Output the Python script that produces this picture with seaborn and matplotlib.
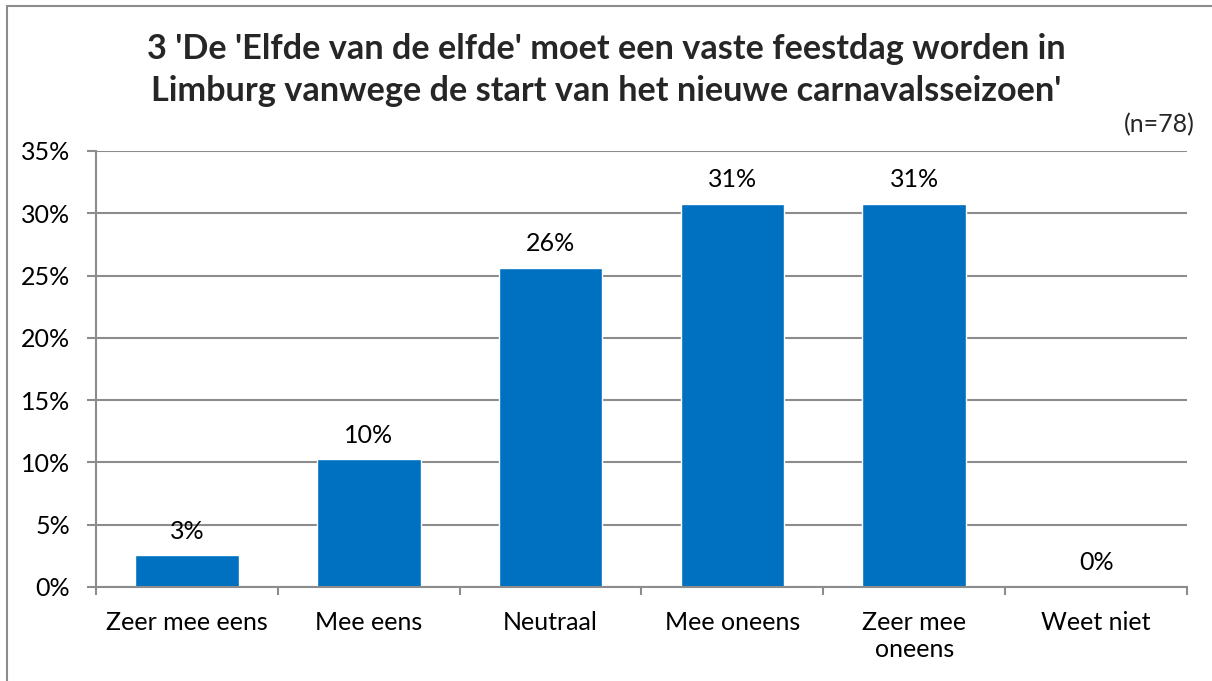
import matplotlib
matplotlib.use("Agg")
import matplotlib.pyplot as plt
import matplotlib.patches as patches
from matplotlib.ticker import FixedLocator, PercentFormatter
import pandas as pd
import seaborn as sns

categories = ["Zeer mee eens", "Mee eens", "Neutraal", "Mee oneens", "Zeer mee\noneens", "Weet niet"]
percentages = [2.56, 10.26, 25.64, 30.77, 30.77, 0.0]
y_ticks = [0, 5, 10, 15, 20, 25, 30, 35]
title = ("3 'De 'Elfde van de elfde' moet een vaste feestdag worden in\n"
         "Limburg vanwege de start van het nieuwe carnavalsseizoen'")
n_label = "(n=78)"

df = pd.DataFrame({"categorie": categories, "pct": percentages})

sns.set_theme(style="white")
plt.rcParams["font.family"] = ["Lato", "DejaVu Sans"]

grid_col = "#8c8c8c"
bar_col = "#0070c0"

fig = plt.figure(figsize=(12.12, 6.81), dpi=100)
ax = fig.add_axes([96 / 1212, 1 - 587 / 681, (1187 - 96) / 1212, (587 - 151) / 681])

sns.barplot(data=df, x="categorie", y="pct", color=bar_col, saturation=1,
            width=0.57, ax=ax)

ax.set_ylim(0, 35)
ax.set_xlim(-0.5, len(categories) - 0.5)
ax.yaxis.set_major_locator(FixedLocator(y_ticks))
ax.yaxis.set_major_formatter(PercentFormatter(decimals=0))
ax.yaxis.grid(True, color=grid_col, linewidth=1.5)
ax.set_axisbelow(True)
ax.set_xlabel("")
ax.set_ylabel("")

for side in ["top", "right"]:
    ax.spines[side].set_visible(False)
for side in ["left", "bottom"]:
    ax.spines[side].set_color(grid_col)
    ax.spines[side].set_linewidth(1.5)

ax.tick_params(axis="y", which="major", left=True, length=6.5, width=1.5,
               color=grid_col, labelsize=18, labelcolor="black", pad=12)
ax.tick_params(axis="x", which="major", length=0, labelsize=18,
               labelcolor="black", pad=17)
ax.xaxis.set_minor_locator(FixedLocator([i - 0.5 for i in range(len(categories) + 1)]))
ax.tick_params(axis="x", which="minor", bottom=True, length=6, width=1.5,
               color=grid_col)
for lbl in ax.get_xticklabels():
    lbl.set_linespacing(1.25)

for cont in ax.containers:
    ax.bar_label(cont, labels=[f"{v:.0f}%" for v in percentages],
                 padding=9, fontsize=18, color="black")

fig.text(0.5, 1 - 33 / 681, title, ha="center", va="top", fontsize=24.7,
         fontweight="bold", linespacing=1.4)
fig.text(1195 / 1212, 1 - 125 / 681, n_label, ha="right", va="center", fontsize=18)

border = patches.Rectangle((7 / 1212, -0.1), 1.2, 1.1 - 6 / 681, transform=fig.transFigure,
                           fill=False, edgecolor=grid_col, linewidth=1.5, clip_on=False)
fig.patches.append(border)

fig.savefig("out.png", dpi=100)
